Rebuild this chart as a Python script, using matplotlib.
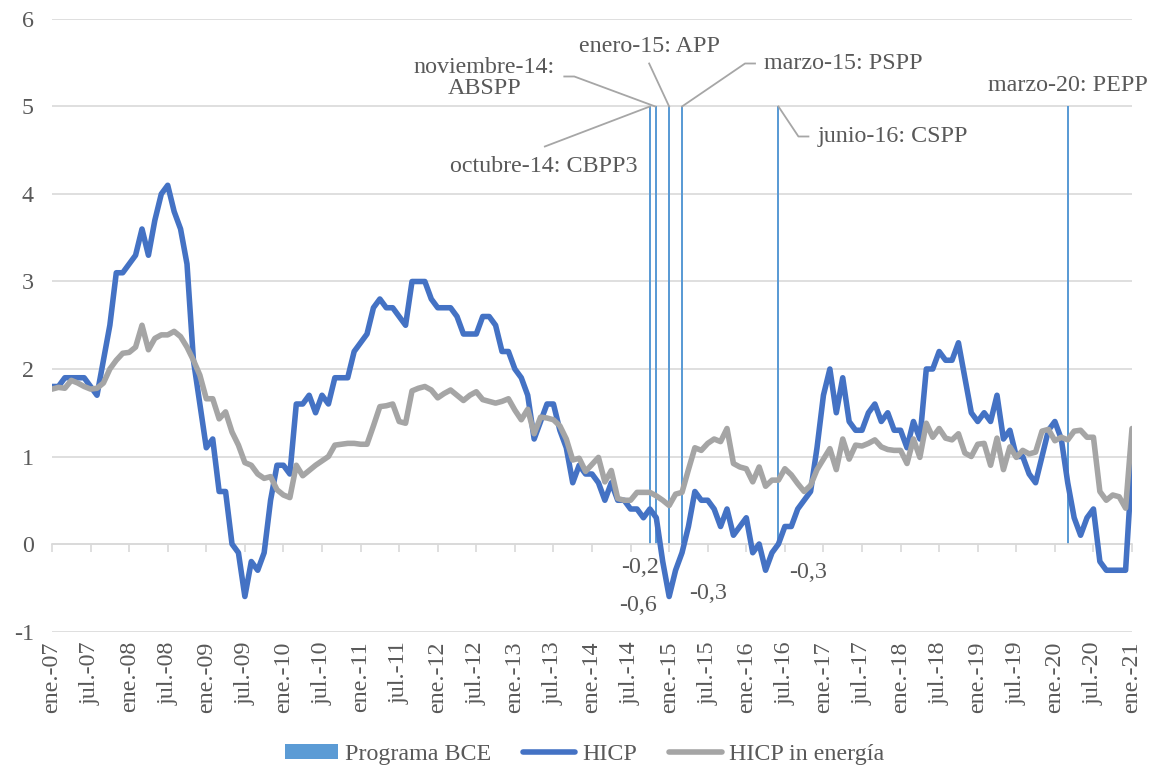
import matplotlib
matplotlib.use('Agg')
import matplotlib.pyplot as plt
import numpy as np
import pandas as pd

plt.rcParams['font.family'] = ['Liberation Serif', 'DejaVu Serif']
plt.rcParams['axes.unicode_minus'] = False

# Monthly data, ene.-07 .. ene.-21
meses = pd.date_range('2007-01-01', '2021-01-01', freq='MS')

hicp = [
    1.8, 1.8, 1.9, 1.9, 1.9, 1.9, 1.8, 1.7, 2.1, 2.5, 3.1, 3.1,
    3.2, 3.3, 3.6, 3.3, 3.7, 4.0, 4.1, 3.8, 3.6, 3.2, 2.1, 1.6,
    1.1, 1.2, 0.6, 0.6, 0.0, -0.1, -0.6, -0.2, -0.3, -0.1, 0.5, 0.9,
    0.9, 0.8, 1.6, 1.6, 1.7, 1.5, 1.7, 1.6, 1.9, 1.9, 1.9, 2.2,
    2.3, 2.4, 2.7, 2.8, 2.7, 2.7, 2.6, 2.5, 3.0, 3.0, 3.0, 2.8,
    2.7, 2.7, 2.7, 2.6, 2.4, 2.4, 2.4, 2.6, 2.6, 2.5, 2.2, 2.2,
    2.0, 1.9, 1.7, 1.2, 1.4, 1.6, 1.6, 1.3, 1.1, 0.7, 0.9, 0.8,
    0.8, 0.7, 0.5, 0.7, 0.5, 0.5, 0.4, 0.4, 0.3, 0.4, 0.3, -0.2,
    -0.6, -0.3, -0.1, 0.2, 0.6, 0.5, 0.5, 0.4, 0.2, 0.4, 0.1, 0.2,
    0.3, -0.1, 0.0, -0.3, -0.1, 0.0, 0.2, 0.2, 0.4, 0.5, 0.6, 1.1,
    1.7, 2.0, 1.5, 1.9, 1.4, 1.3, 1.3, 1.5, 1.6, 1.4, 1.5, 1.3,
    1.3, 1.1, 1.4, 1.2, 2.0, 2.0, 2.2, 2.1, 2.1, 2.3, 1.9, 1.5,
    1.4, 1.5, 1.4, 1.7, 1.2, 1.3, 1.0, 1.0, 0.8, 0.7, 1.0, 1.3,
    1.4, 1.2, 0.7, 0.3, 0.1, 0.3, 0.4, -0.2, -0.3, -0.3, -0.3, -0.3,
    0.9,
]

hicp_sin_energia = [
    1.77, 1.79, 1.78, 1.87, 1.84, 1.80, 1.77, 1.78, 1.84, 2.00, 2.10, 2.18,
    2.19, 2.25, 2.50, 2.22, 2.35, 2.39, 2.39, 2.43, 2.37, 2.25, 2.10, 1.93,
    1.66, 1.66, 1.43, 1.51, 1.28, 1.13, 0.93, 0.90, 0.80, 0.75, 0.77, 0.62,
    0.56, 0.53, 0.90, 0.78, 0.84, 0.90, 0.95, 1.00, 1.13, 1.14, 1.15, 1.15,
    1.14, 1.14, 1.35, 1.57, 1.58, 1.60, 1.40, 1.38, 1.75, 1.78, 1.80, 1.76,
    1.67, 1.72, 1.76, 1.70, 1.64, 1.70, 1.74, 1.65, 1.63, 1.61, 1.63, 1.66,
    1.53, 1.42, 1.54, 1.26, 1.45, 1.44, 1.42, 1.35, 1.20, 0.96, 0.98, 0.83,
    0.91, 0.99, 0.71, 0.84, 0.52, 0.50, 0.50, 0.59, 0.59, 0.59, 0.55, 0.50,
    0.44, 0.57, 0.59, 0.85, 1.10, 1.07, 1.15, 1.20, 1.17, 1.32, 0.92, 0.88,
    0.86, 0.71, 0.88, 0.66, 0.73, 0.73, 0.86, 0.79, 0.69, 0.60, 0.67, 0.85,
    0.97, 1.09, 0.85, 1.20, 0.97, 1.13, 1.12, 1.15, 1.19, 1.11, 1.08, 1.07,
    1.07, 0.92, 1.20, 0.99, 1.38, 1.22, 1.32, 1.21, 1.19, 1.26, 1.04, 1.00,
    1.14, 1.15, 0.90, 1.21, 0.85, 1.11, 0.99, 1.07, 1.03, 1.05, 1.29, 1.31,
    1.18, 1.22, 1.19, 1.29, 1.30, 1.22, 1.22, 0.60, 0.50, 0.56, 0.54, 0.41,
    1.32,
]

# ECB programmes
programa_fechas = ['2014-10', '2014-11', '2015-01', '2015-03', '2016-06', '2020-03']
programa_altura = [5, 5, 5, 5, 5, 5]
programa_nombres = ['octubre-14: CBPP3', 'noviembre-14:\nABSPP', 'enero-15: APP',
                    'marzo-15: PSPP', 'junio-16: CSPP', 'marzo-20: PEPP']

# months with a data label on the HICP line
etiqueta_fechas = ['2014-12', '2015-01', '2015-02', '2016-04']

meses_abrev = {1: 'ene.', 7: 'jul.'}

TEXT = '#595959'
GRID = '#D9D9D9'
FS = 17.3

# label text position (px offset from bar top) and leader vertices (px offsets)
anot_offsets = [(-106, 60), (-172, -28), (-20, -60), (161, -43), (114, 30), (0, -21)]
anot_leaders = [
    [(-105, 40), (0, 0)],
    [(-92, -30), (-82, -30), (-1, 0)],
    [(-20, -43), (0, 0)],
    [(73, -43), (63, -43), (0, 0)],
    [(0, 0), (20, 30), (30, 30)],
    [],
]
etiqueta_offsets = [(-23, 6), (-31, 9), (32, 23), (42, 2)]


def idx_of(fecha):
    return meses.get_loc(pd.Timestamp(fecha + '-01'))


x = np.arange(len(meses))

fig = plt.figure(figsize=(11.53, 7.69), dpi=100)
ax = fig.add_axes([0.0451, 0.1788, 0.9367, 0.7965])
ax.set_xlim(0, len(meses) - 1)
ax.set_ylim(-1, 6)

# grid and axes
ax.set_yticks(range(-1, 7))
ax.set_yticklabels([str(v) for v in range(-1, 7)])
ax.yaxis.grid(True, color=GRID, lw=1.2)
ax.set_axisbelow(True)
for s in ['top', 'left', 'right']:
    ax.spines[s].set_visible(False)
ax.spines['bottom'].set_position(('data', 0))
ax.spines['bottom'].set_color(GRID)
ax.spines['bottom'].set_linewidth(1.2)
ax.tick_params(axis='y', length=0, pad=13, labelcolor=TEXT, labelsize=FS)

tick_pos = list(range(0, len(meses), 6))
ax.set_xticks(tick_pos)
ax.tick_params(axis='x', length=6, width=1.2, color=GRID, labelbottom=False, direction='out')

tick_labels = [f"{meses_abrev[meses[i].month]}-{meses[i].strftime('%y')}" for i in tick_pos]
sec = ax.secondary_xaxis(0)
sec.set_xticks(tick_pos)
sec.set_xticklabels(tick_labels, rotation=90)
sec.tick_params(length=0, pad=7, labelcolor=TEXT, labelsize=FS)
sec.spines['bottom'].set_visible(False)

# series
prog_x = [idx_of(f) for f in programa_fechas]
bars = ax.bar(prog_x, programa_altura, width=0.3, color='#5B9BD5', zorder=2, label='Programa BCE')
l1, = ax.plot(x, hicp, color='#4472C4', lw=4.0, solid_joinstyle='round', solid_capstyle='round',
              zorder=3, label='HICP')
l2, = ax.plot(x, hicp_sin_energia, color='#A5A5A5', lw=4.0, solid_joinstyle='round',
              solid_capstyle='round', zorder=4, label='HICP in energía')

# programme annotations
bbox = ax.get_window_extent()
px_x = bbox.width / (len(meses) - 1)
px_y = bbox.height / 7.0
for xi, h, nombre, off, leader in zip(prog_x, programa_altura, programa_nombres, anot_offsets, anot_leaders):
    ax.annotate(nombre, xy=(xi, h), xytext=(off[0], -off[1]), textcoords='offset pixels',
                ha='center', va='center', fontsize=FS, color=TEXT, linespacing=1.0, zorder=5)
    if leader:
        lx = [xi + p[0] / px_x for p in leader]
        ly = [h - p[1] / px_y for p in leader]
        ax.plot(lx, ly, color='#A6A6A6', lw=1.3, zorder=5, clip_on=False)

# data labels
for f, off in zip(etiqueta_fechas, etiqueta_offsets):
    i = idx_of(f)
    txt = f"{hicp[i]:.1f}".replace('.', ',')
    ax.annotate(txt, xy=(i, hicp[i]), xytext=(off[0], -off[1]), textcoords='offset pixels',
                ha='center', va='center', fontsize=FS, color=TEXT, zorder=5)

fig.legend(handles=[bars, l1, l2], loc='center', bbox_to_anchor=(0.507, 0.019), ncol=3,
           frameon=False, fontsize=FS, labelcolor=TEXT, handlelength=2.2, handleheight=0.55,
           handletextpad=0.3, columnspacing=1.3)

plt.savefig('out.png', dpi=100)
plt.close()
